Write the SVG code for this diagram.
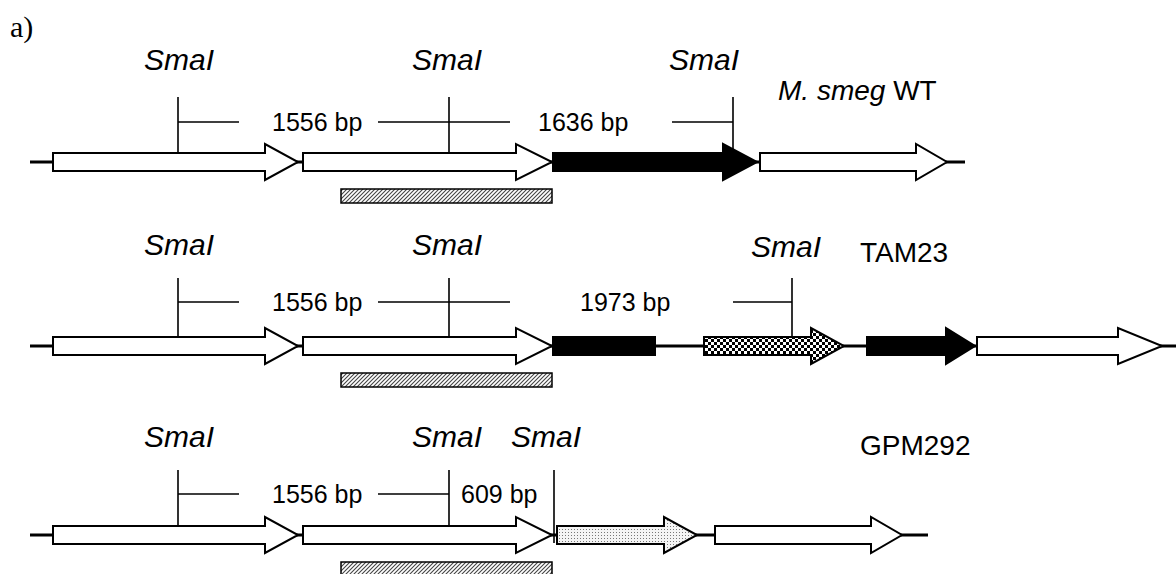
<svg xmlns="http://www.w3.org/2000/svg" width="1176" height="574" viewBox="0 0 1176 574">
<defs>
<pattern id="hatch" width="4" height="4" patternUnits="userSpaceOnUse">
<rect width="4" height="4" fill="#fff"/>
<path d="M-1,1 L1,-1 M0,4 L4,0 M3,5 L5,3" stroke="#444" stroke-width="1.1"/>
</pattern>
<pattern id="checker" width="6" height="6" patternUnits="userSpaceOnUse">
<rect width="6" height="6" fill="#fff"/>
<rect width="3" height="3" fill="#000"/>
<rect x="3" y="3" width="3" height="3" fill="#000"/>
</pattern>
<pattern id="dots" width="3" height="3" patternUnits="userSpaceOnUse">
<rect width="3" height="3" fill="#f4f4f4"/>
<rect x="1" y="1" width="1" height="1" fill="#777"/>
</pattern>
</defs>
<style>
.bb{stroke:#000;stroke-width:3;fill:none}
.ln{stroke:#000;stroke-width:1.6;fill:none}
.gw{fill:#fff;stroke:#000;stroke-width:2}
.gb{fill:#000;stroke:#000;stroke-width:2}
.gc{fill:url(#checker);stroke:#000;stroke-width:2}
.gd{fill:url(#dots);stroke:#000;stroke-width:2}
.bar{fill:url(#hatch);stroke:#000;stroke-width:1.5}
.sma{font-family:"Liberation Sans",Arial,sans-serif;font-style:italic;font-size:30px;text-anchor:middle;fill:#000}
.bp{font-family:"Liberation Sans",Arial,sans-serif;font-size:25px;fill:#000}
.nm{font-family:"Liberation Sans",Arial,sans-serif;font-size:28px;fill:#000}
.lab{font-family:"Liberation Serif","Times New Roman",serif;font-size:30px;fill:#000}
</style>
<text class="lab" x="10" y="37">a)</text>

<g id="connectors">
<line class="bb" x1="30" y1="162" x2="965" y2="162"/>
<line class="bb" x1="30" y1="346" x2="1176" y2="346"/>
<line class="bb" x1="30" y1="535" x2="928" y2="535"/>
</g>

<g id="row1">
<path class="gw" d="M53,153 H265 V144 L298,162 L265,180 V171 H53 Z"/>
<path class="gw" d="M303,153 H516 V144 L552,162 L516,180 V171 H303 Z"/>
<path class="gb" d="M553,153 H723 V144 L757,162 L723,180 V171 H553 Z"/>
<path class="gw" d="M760,153 H916 V144 L947,162 L916,180 V171 H760 Z"/>
<rect class="bar" x="341" y="189" width="211" height="14"/>
<path class="ln" d="M178,97 V153 M449,97 V153 M733,97 V150 M178,122 H239 M378,122 H510 M672,122 H733"/>
<text class="sma" x="179" y="70">SmaI</text>
<text class="sma" x="447" y="70">SmaI</text>
<text class="sma" x="704" y="70">SmaI</text>
<text class="bp" x="272" y="131">1556 bp</text>
<text class="bp" x="538" y="131">1636 bp</text>
<text class="nm" x="778" y="100"><tspan font-style="italic">M. smeg</tspan> WT</text>
</g>

<g id="row2">
<path class="gw" d="M53,337 H265 V328 L298,346 L265,364 V355 H53 Z"/>
<path class="gw" d="M303,337 H516 V328 L552,346 L516,364 V355 H303 Z"/>
<rect class="gb" x="553" y="337" width="102" height="18"/>
<path class="gc" d="M704,337 H811 V328 L844,346 L811,364 V355 H704 Z"/>
<path class="gb" d="M867,337 H946 V328 L975,346 L946,364 V355 H867 Z"/>
<path class="gw" d="M977,337 H1118 V328 L1162,346 L1118,364 V355 H977 Z"/>
<rect class="bar" x="341" y="373" width="211" height="14"/>
<path class="ln" d="M178,278 V337 M449,278 V337 M792,278 V337 M178,302 H239 M378,302 H510 M733,302 H792"/>
<text class="sma" x="179" y="255">SmaI</text>
<text class="sma" x="447" y="255">SmaI</text>
<text class="sma" x="786" y="257">SmaI</text>
<text class="bp" x="272" y="311">1556 bp</text>
<text class="bp" x="580" y="311">1973 bp</text>
<text class="nm" x="860" y="262">TAM23</text>
</g>

<g id="row3">
<path class="gw" d="M53,526 H265 V517 L298,535 L265,553 V544 H53 Z"/>
<path class="gw" d="M303,526 H516 V517 L552,535 L516,553 V544 H303 Z"/>
<path class="gd" d="M557,526 H664 V517 L697,535 L664,553 V544 H557 Z"/>
<path class="gw" d="M715,526 H871 V517 L902,535 L871,553 V544 H715 Z"/>
<rect class="bar" x="341" y="562" width="211" height="14"/>
<path class="ln" d="M178,470 V526 M449,470 V526 M554,470 V543 M178,494 H239 M378,494 H449"/>
<text class="sma" x="179" y="447">SmaI</text>
<text class="sma" x="447" y="447">SmaI</text>
<text class="sma" x="546" y="447">SmaI</text>
<text class="bp" x="272" y="503">1556 bp</text>
<text class="bp" x="461" y="503">609 bp</text>
<text class="nm" x="860" y="455">GPM292</text>
</g>
</svg>
